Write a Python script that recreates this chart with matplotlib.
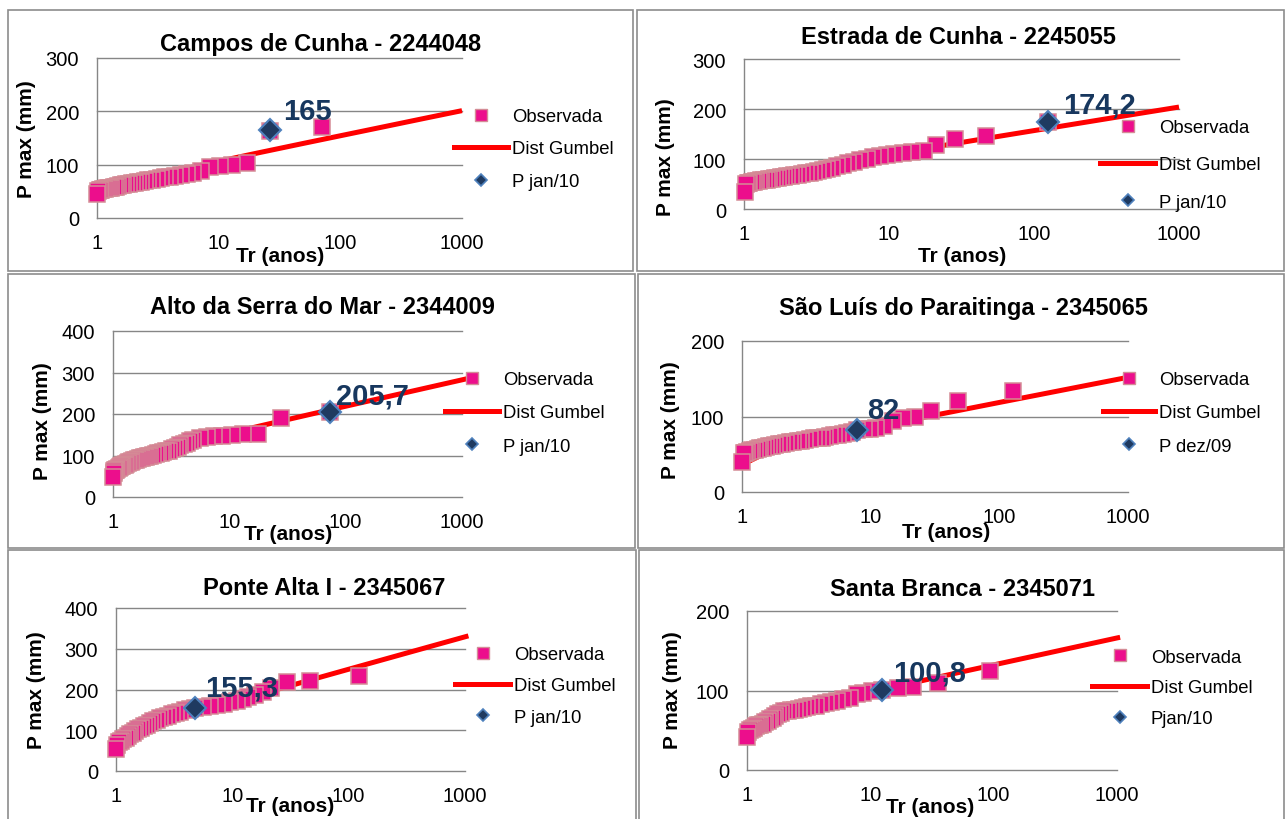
import matplotlib
matplotlib.use("Agg")
import matplotlib.pyplot as plt
from matplotlib.lines import Line2D
from matplotlib.patches import Rectangle
from matplotlib.ticker import FixedLocator, NullLocator

plt.rcParams['font.family'] = ['Liberation Sans', 'DejaVu Sans']

W, H = 1285, 820

# Campos de Cunha - 2244048
cc_tr = [71, 26.5, 17, 12.8, 10.2, 8.5, 7.2, 6.2, 5.5, 4.9, 4.4, 4.0, 3.65, 3.35, 3.1,
         2.85, 2.65, 2.48, 2.32, 2.18, 2.05, 1.94, 1.83, 1.74, 1.65, 1.57, 1.50, 1.43,
         1.37, 1.31, 1.26, 1.21, 1.16, 1.12, 1.08, 1.05, 1.02, 1.00]
cc_p = [170, 164, 104, 100, 98, 95, 89, 85, 83, 81, 79, 77, 76, 75, 74,
        72, 71, 70, 68, 67, 66, 65, 64, 63, 62, 61, 60, 59,
        58, 57, 57, 56, 55, 54, 53, 52, 50, 45]
cc_gum_tr = [1.1, 1.5, 2, 3, 5, 10, 20, 50, 100, 200, 500, 1000]
cc_gum_p = [42.6, 58.5, 67.9, 78.8, 91.0, 106.3, 121.0, 140.0, 154.2, 168.4, 187.2, 201.3]

# Estrada de Cunha - 2245055
ec_tr = [124, 47, 28.6, 21.1, 17.3, 14.5, 12.5, 10.9, 9.7, 8.7, 7.8, 7.0, 6.3, 5.7, 5.2,
         4.8, 4.4, 4.05, 3.75, 3.5, 3.25, 3.03, 2.84, 2.66, 2.5, 2.35, 2.22, 2.1, 1.99,
         1.89, 1.8, 1.71, 1.63, 1.56, 1.49, 1.43, 1.37, 1.31, 1.26, 1.21, 1.17, 1.13,
         1.09, 1.06, 1.03, 1.01]
ec_p = [174.2, 147, 140, 128, 117, 115, 113, 111, 108, 106, 104, 101, 98, 95, 92,
        89, 86, 83, 81, 79, 77, 75, 73, 72, 70, 69, 68, 67, 66,
        65, 64, 63, 62, 61, 60, 59, 58, 58, 57, 56, 55, 54,
        53, 52, 50, 35]
ec_gum_tr = [1.1, 1.5, 2, 3, 5, 10, 20, 50, 100, 200, 500, 1000]
ec_gum_p = [45.2, 61.1, 70.5, 81.4, 93.6, 108.9, 123.6, 142.6, 156.8, 171.0, 189.8, 203.9]

# Alto da Serra do Mar - 2344009
as_tr = [73.9, 27.7, 17.5, 13.2, 10.5, 8.7, 7.45, 6.4, 5.6, 4.9, 4.6, 4.3, 4.05, 3.8, 3.6,
         3.4, 3.2, 3.0, 2.85, 2.7, 2.57, 2.45, 2.32, 2.2, 2.1, 2.0, 1.92, 1.85, 1.77, 1.7,
         1.64, 1.58, 1.52, 1.47, 1.42, 1.38, 1.34, 1.3, 1.26, 1.23, 1.2, 1.17, 1.14, 1.12,
         1.09, 1.07, 1.05, 1.03, 1.015, 1.0]
as_p = [205.7, 191, 153, 151, 150, 148, 146, 145, 142, 138, 134, 131, 128, 125, 121,
        118, 115, 112, 110, 108, 106, 105, 103, 102, 100, 99, 97, 96, 94, 93,
        91, 90, 88, 87, 85, 84, 82, 80, 78, 77, 75, 74, 72, 70,
        68, 66, 64, 62, 58, 47]
as_gum_tr = [1.1, 1.5, 2, 3, 5, 10, 20, 50, 100, 200, 500, 1000, 1150]
as_gum_p = [67.6, 89.1, 101.8, 116.6, 133.1, 153.8, 173.7, 199.4, 218.7, 237.9, 263.2, 282.3, 286.2]

# São Luís do Paraitinga - 2345065
sl_tr = [127, 47.4, 29.4, 22.1, 17.9, 15, 12.7, 11.1, 9.9, 8.9, 7.9, 7.2, 6.6, 6.1, 5.6,
         5.2, 4.8, 4.45, 4.15, 3.9, 3.6, 3.35, 3.1, 2.9, 2.7, 2.5, 2.35, 2.2, 2.05, 1.93,
         1.82, 1.72, 1.63, 1.54, 1.46, 1.39, 1.32, 1.26, 1.2, 1.15, 1.1, 1.06, 1.03, 1.0]
sl_p = [134, 120, 107, 100, 98, 94, 88, 85, 84, 83, 82, 80, 78.5, 77, 76,
        75, 74, 73, 72, 71.5, 71, 70, 69, 68, 67.5, 66.5, 66, 65, 64, 63,
        62, 61, 60.5, 59.5, 58.5, 58, 57, 56, 55, 54, 53, 52, 51, 40]
sl_gum_tr = [1.1, 1.5, 2, 3, 5, 10, 20, 50, 100, 200, 500, 1000, 1050]
sl_gum_p = [39.6, 50.8, 57.5, 65.2, 73.8, 84.7, 95.1, 108.5, 118.6, 128.6, 141.9, 151.9, 152.6]

# Ponte Alta I - 2345067
pa_tr = [123.6, 46.5, 29.4, 21.5, 18.2, 15.6, 13.7, 12.3, 10.9, 9.5, 8.4, 7.35, 6.42, 5.6,
         4.77, 4.3, 3.9, 3.55, 3.25, 3.0, 2.78, 2.58, 2.4, 2.24, 2.1, 1.97, 1.85, 1.74,
         1.64, 1.55, 1.47, 1.4, 1.33, 1.27, 1.21, 1.16, 1.11, 1.07, 1.03, 1.0]
pa_p = [234, 220, 218, 203, 193, 186, 181, 177, 173, 169, 165, 163, 160, 158,
        155.3, 152, 149, 146, 143, 140, 136, 133, 130, 126, 122, 118, 114, 110,
        106, 102, 98, 94, 90, 86, 82, 78, 74, 70, 65, 54]
pa_gum_tr = [1.1, 1.5, 2, 3, 5, 10, 20, 50, 100, 200, 500, 1000, 1070]
pa_gum_p = [60.8, 87.8, 103.7, 122.2, 142.8, 168.6, 193.5, 225.6, 249.7, 273.7, 305.4, 329.3, 331.6]

# Santa Branca - 2345071
sb_tr = [93.5, 35.6, 22.1, 16.9, 12.4, 10.3, 8.8, 7.76, 6.8, 6.05, 5.33, 4.8, 4.35, 3.95,
         3.6, 3.3, 3.05, 2.82, 2.62, 2.44, 2.28, 2.14, 2.01, 1.9, 1.8, 1.7, 1.62, 1.54,
         1.47, 1.4, 1.34, 1.28, 1.23, 1.18, 1.13, 1.09, 1.05, 1.02, 1.0]
sb_p = [125, 110, 104, 103, 100.8, 99, 96.5, 95, 91, 89, 87, 85, 84, 83,
        81, 80, 79, 78, 77, 76, 75, 74.5, 74, 72, 70, 68, 66, 64,
        62, 60, 58, 57, 56, 55, 53, 52, 50, 48, 41]
sb_gum_tr = [1.1, 1.5, 2, 3, 5, 10, 20, 50, 100, 200, 500, 1000, 1060]
sb_gum_p = [51.9, 63.3, 70.1, 78.0, 86.7, 97.7, 108.3, 122.0, 132.2, 142.4, 155.9, 166.1, 166.9]

titles = ['Campos de Cunha - 2244048', 'Estrada de Cunha - 2245055',
          'Alto da Serra do Mar - 2344009', 'São Luís do Paraitinga - 2345065',
          'Ponte Alta I - 2345067', 'Santa Branca - 2345071']
event_tr = [26.5, 124, 73.9, 7.9, 4.77, 12.4]
event_p = [165, 174.2, 205.7, 82, 155.3, 100.8]
event_text = ['165', '174,2', '205,7', '82', '155,3', '100,8']
event_legend = ['P jan/10', 'P jan/10', 'P jan/10', 'P dez/09', 'P jan/10', 'Pjan/10']
y_max = [300, 300, 400, 200, 400, 200]
x_ticks = [1, 10, 100, 1000]
x_ticklabels = ['1', '10', '100', '1000']

obs_series = [(cc_tr, cc_p), (ec_tr, ec_p), (as_tr, as_p),
              (sl_tr, sl_p), (pa_tr, pa_p), (sb_tr, sb_p)]
gum_series = [(cc_gum_tr, cc_gum_p), (ec_gum_tr, ec_gum_p), (as_gum_tr, as_gum_p),
              (sl_gum_tr, sl_gum_p), (pa_gum_tr, pa_gum_p), (sb_gum_tr, sb_gum_p)]

# layout in pixels (x from left, y from top)
layout = [
    dict(border=(8, 11, 633, 272), box=(97, 59, 462, 219), title=(321, 45), ylab=(27, 139),
         xlab=(280, 257), leg=(454, 508, 150), lsp=0.84, ann=(9, 8)),
    dict(border=(637, 11, 1284, 272), box=(744, 60, 1179, 210), title=(958, 38), ylab=(665, 157),
         xlab=(962, 256), leg=(1100, 1155, 166), lsp=1.1, ann=(11, 7)),
    dict(border=(8, 275, 635, 549), box=(113, 332, 462, 498), title=(322, 308), ylab=(43, 421),
         xlab=(288, 535), leg=(445, 499, 414), lsp=0.88, ann=(4, 6)),
    dict(border=(638, 275, 1284, 549), box=(742, 342, 1128, 493), title=(963, 309), ylab=(670, 420),
         xlab=(946, 533), leg=(1103, 1155, 414), lsp=0.88, ann=(7, 9)),
    dict(border=(8, 551, 636, 830), box=(116, 609, 465, 772), title=(324, 589), ylab=(37, 690),
         xlab=(290, 807), leg=(455, 510, 687), lsp=0.76, ann=(7, 9)),
    dict(border=(639, 551, 1284, 830), box=(747, 612, 1117, 771), title=(963, 590), ylab=(672, 690),
         xlab=(930, 808), leg=(1092, 1147, 689), lsp=0.75, ann=(8, 7)),
]

PINK = '#EC0E8C'
ROSE = '#D48C96'
RED = '#FF0000'
NAVY = '#1F3A60'
STEEL = '#4F81BD'
LABEL_NAVY = '#17375E'
GRID = '#868686'


def fx(x):
    return x / W


def fy(y):
    return 1 - y / H


fig = plt.figure(figsize=(W / 100, H / 100), dpi=100)

for i, lay in enumerate(layout):
    bx0, by0, bx1, by1 = lay['border']
    fig.add_artist(Rectangle((fx(bx0), fy(by1)), (bx1 - bx0) / W, (by1 - by0) / H,
                             transform=fig.transFigure, fill=False, ec='#8C8C8C', lw=1.2))

    x0, y0, x1, y1 = lay['box']
    ax = fig.add_axes([fx(x0), fy(y1), (x1 - x0) / W, (y1 - y0) / H])
    ax.set_xscale('log')
    ax.set_xlim(1, 1000)
    ax.set_ylim(0, y_max[i])

    g_tr, g_p = gum_series[i]
    ax.plot(g_tr, g_p, color=RED, lw=3.6, solid_capstyle='butt', zorder=2, clip_on=False)
    o_tr, o_p = obs_series[i]
    ax.plot(o_tr, o_p, ls='none', marker='s', ms=12, mfc=PINK, mec=ROSE, mew=1.1,
            zorder=3, clip_on=False)
    ax.plot([event_tr[i]], [event_p[i]], ls='none', marker='D', ms=11, mfc=NAVY, mec=STEEL,
            mew=1.5, zorder=4, clip_on=False)
    ax.annotate(event_text[i], xy=(event_tr[i], event_p[i]), xytext=lay['ann'],
                textcoords='offset points', ha='left', va='baseline', fontsize=21,
                fontweight='bold', color=LABEL_NAVY, zorder=5, annotation_clip=False)

    ax.xaxis.set_major_locator(FixedLocator(x_ticks))
    ax.xaxis.set_minor_locator(NullLocator())
    ax.set_xticklabels(x_ticklabels)
    ax.set_yticks(list(range(0, y_max[i] + 1, 100)))
    ax.tick_params(axis='x', length=0, labelsize=14.5, pad=10.5)
    ax.tick_params(axis='y', length=0, labelsize=14.5, pad=13)
    ax.grid(axis='y', color=GRID, lw=1.0)
    for gl in ax.get_ygridlines():
        gl.set_clip_on(False)
    ax.set_axisbelow(True)
    for side in ['top', 'right', 'bottom']:
        ax.spines[side].set_visible(False)
    ax.spines['left'].set_color(GRID)
    ax.spines['left'].set_linewidth(1.0)
    ax.patch.set_alpha(0)

    fig.text(fx(lay['title'][0]), fy(lay['title'][1]), titles[i], ha='center', va='center',
             fontsize=17, fontweight='bold')
    fig.text(fx(lay['ylab'][0]), fy(lay['ylab'][1]), 'P max (mm)', ha='center', va='center',
             rotation=90, fontsize=15, fontweight='bold')
    fig.text(fx(lay['xlab'][0]), fy(lay['xlab'][1]), 'Tr (anos)', ha='center', va='center',
             fontsize=15, fontweight='bold')

    lx0, lx1, ly = lay['leg']
    fs_px = 13.3 * 100 / 72
    handles = [Line2D([], [], ls='none', marker='s', ms=8.5, mfc=PINK, mec=ROSE, mew=1.0),
               Line2D([], [], color=RED, lw=3.6),
               Line2D([], [], ls='none', marker='D', ms=6, mfc=NAVY, mec=STEEL, mew=1.2)]
    ax.legend(handles, ['Observada', 'Dist Gumbel', event_legend[i]], loc='center left',
              bbox_to_anchor=(fx(lx0), fy(ly)), bbox_transform=fig.transFigure,
              frameon=False, fontsize=13.3, handlelength=(lx1 - lx0) / fs_px,
              handletextpad=4 / fs_px, labelspacing=lay['lsp'], borderpad=0,
              borderaxespad=0)

fig.savefig('out.png', dpi=100)
